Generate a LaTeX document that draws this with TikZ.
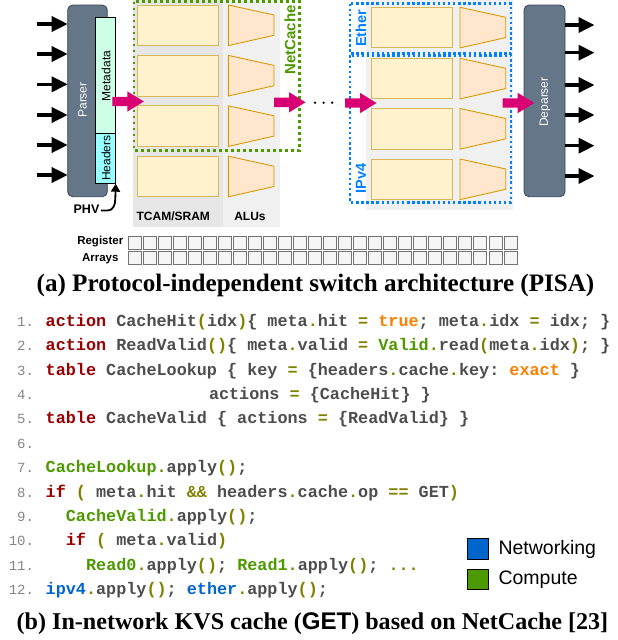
\documentclass[tikz,border=0pt]{standalone}
\usepackage{fontspec}
\setsansfont{Liberation Sans}
\setmonofont{Liberation Mono}
\newfontfamily\capfont{Liberation Serif}
\usetikzlibrary{arrows.meta}
\definecolor{slate}{HTML}{647687}
\definecolor{slatedk}{HTML}{314354}
\definecolor{mint}{HTML}{CCFFE6}
\definecolor{cyanh}{HTML}{99FFFF}
\definecolor{tcamf}{HTML}{FFF2CC}
\definecolor{tcamd}{HTML}{D6B656}
\definecolor{aluf}{HTML}{FFE6CC}
\definecolor{alud}{HTML}{D79B00}
\definecolor{mag}{HTML}{D80073}
\definecolor{ncgreen}{HTML}{4D9900}
\definecolor{netblue}{HTML}{007FFF}
\definecolor{bgdark}{HTML}{E6E6E6}
\definecolor{bglight}{HTML}{F0F0F0}
\definecolor{ckwc}{HTML}{990000}
\definecolor{ctxc}{HTML}{4D4D4D}
\definecolor{cpuc}{HTML}{808000}
\definecolor{clic}{HTML}{FF8000}
\definecolor{cgrc}{HTML}{4D9900}
\definecolor{cblc}{HTML}{0066CC}
\definecolor{clnc}{HTML}{858585}
\definecolor{lgblue}{HTML}{0066CC}
\definecolor{lggreen}{HTML}{4D9900}
\newcommand\cKw[1]{\textcolor{ckwc}{#1}}
\newcommand\cPu[1]{\textcolor{cpuc}{#1}}
\newcommand\cLi[1]{\textcolor{clic}{#1}}
\newcommand\cGr[1]{\textcolor{cgrc}{#1}}
\newcommand\cBl[1]{\textcolor{cblc}{#1}}
\tikzset{
  every node/.style={inner sep=0pt, outer sep=0pt},
  slatebox/.style={draw=slatedk, fill=slate, rounded corners=5pt, line width=0.8pt},
  inarrow/.style={line width=3.5pt, -{Triangle[length=16pt,width=15pt]}},
  tcam/.style={draw=tcamd, fill=tcamf, line width=0.9pt},
  alu/.style={draw=alud, fill=aluf, line width=0.9pt},
  magarrow/.pic={\fill[mag] (0,-4.7) -- (15,-4.7) -- (15,-10.2) -- (31.5,0) -- (15,10.2) -- (15,4.7) -- (0,4.7) -- cycle;},
  lbl/.style={font=\sffamily\fontsize{12}{14}\selectfont},
  blbl/.style={font=\sffamily\bfseries\fontsize{12}{14}\selectfont},
  codeline/.style={anchor=base west, text=ctxc, font=\ttfamily\bfseries\fontsize{16.8}{20}\selectfont},
  lnum/.style={anchor=base east, text=clnc, font=\ttfamily\fontsize{14}{16}\selectfont},
  regsq/.style={draw=black!55, fill=black!4, line width=0.7pt, minimum width=13pt, minimum height=12.3pt},
}
\begin{document}
\begin{tikzpicture}[x=1pt,y=-1pt]
\useasboundingbox (0,0) rectangle (618,640);
% stage backgrounds
\fill[bgdark] (132.7,0) rectangle (223.3,226.7);
\fill[bglight] (223.3,0) rectangle (280,226.7);
\fill[bglight] (365.7,0) rectangle (512.7,210);
% left stage memory and ALUs
\foreach \t [count=\i] in {5,55.4,105.8,156.2}{
  \node[tcam, minimum width=80.6pt, minimum height=40.6pt] (lt\i) at (178,\t+20.3) {};
  \filldraw[alu] (228.3,\t) -- (274,\t+10) -- (274,\t+30.3) -- (228.3,\t+40.6) -- cycle;
}
% right stage memory and ALUs
\foreach \t [count=\i] in {7.3,58.3,108.5,159}{
  \node[tcam, minimum width=81pt, minimum height=40.6pt] (rt\i) at (412.2,\t+20.3) {};
  \filldraw[alu] (460,\t) -- (505.7,\t+10) -- (505.7,\t+30.3) -- (460,\t+40.6) -- cycle;
}
% program regions
\draw[ncgreen, line width=2.8pt, dash pattern=on 2.8pt off 3.2pt] (134,1.5) rectangle (299.5,150.5);
\node[rotate=90, text=ncgreen, font=\sffamily\bfseries\fontsize{15}{17}\selectfont] (nc) at (290,40) {NetCache};
\draw[netblue, line width=2.6pt, dash pattern=on 2.5pt off 2.6pt] (350,3.5) rectangle (511,53.3);
\draw[netblue, line width=2.6pt, dash pattern=on 2.5pt off 2.6pt] (350,55.3) rectangle (511,202.3);
\node[rotate=90, text=netblue, font=\sffamily\bfseries\fontsize{14.5}{17}\selectfont] (eth) at (361,28.3) {Ether};
\node[rotate=90, text=netblue, font=\sffamily\bfseries\fontsize{14.5}{17}\selectfont] (ip4) at (361,178.3) {IPv4};
% parser
\node[slatebox, minimum width=39.6pt, minimum height=191.7pt] (parser) at (87.5,100.85) {};
\node[rotate=90, text=white, lbl] (parsertxt) at (82.5,100) {Parser};
\node[draw=black, fill=mint, line width=0.8pt, minimum width=20.7pt, minimum height=115.6pt] (md) at (105.35,75.5) {};
\node[draw=black, fill=cyanh, line width=0.8pt, minimum width=20.7pt, minimum height=50.4pt] (hd) at (105.35,158.5) {};
\node[rotate=90, lbl] (mdtxt) at (106,76) {Metadata};
\node[rotate=90, lbl] (hdtxt) at (106,158.3) {Headers};
\foreach \y [count=\i] in {24,54,84.3,115,145,175}{
  \coordinate (in\i) at (36.7,\y);
  \draw[inarrow] (in\i) -- (parser.west |- in\i);
}
\node[blbl, font=\sffamily\bfseries\fontsize{12.5}{14}\selectfont] (phv) at (86.5,209.5) {PHV};
\draw[line width=1.8pt, -{Triangle[length=8pt,width=9pt]}] (phv.east) ++(1.5,1) -- ++(7,0) to[out=0,in=-90] (115.3,199) -- (hd.south east);
% deparser
\node[slatebox, minimum width=41pt, minimum height=191.7pt] (deparser) at (544.5,100.85) {};
\node[rotate=90, text=white, lbl] (deptxt) at (545,102) {Deparser};
\foreach \y [count=\i] in {25,52.7,85,115,145.7,176}{
  \coordinate (out\i) at (594.5,\y);
  \draw[inarrow] (deparser.east |- out\i) -- (out\i);
}
% column labels
\node[blbl] (tcamlbl) at (173.3,216.5) {TCAM/SRAM};
\node[blbl] (alulbl) at (250,216.5) {ALUs};
% flow arrows
\pic (m1) at (112.3,101.5) {magarrow};
\pic (m2) at (274,102.3) {magarrow};
\pic (m3) at (345,103) {magarrow};
\pic (m4) at (502.7,103) {magarrow};
\foreach \x [count=\i] in {315,323.6,332.2}{
  \fill[black] (\x,102.7) circle (1.3) coordinate (dot\i);
}
% register arrays
\node[anchor=east, blbl, font=\sffamily\bfseries\fontsize{11.5}{13}\selectfont] (reglbl) at (123.3,242) {Register};
\node[anchor=east, blbl, font=\sffamily\bfseries\fontsize{11.5}{13}\selectfont] (arrlbl) at (118.5,259) {Arrays};
\foreach \i in {0,...,25}{
  \node[regsq] (ra\i) at (134.4+\i*15.04,242.8) {};
  \node[regsq] (rb\i) at (134.4+\i*15.04,257.8) {};
}
% caption a
\node[anchor=base] (capa) at (315.5,291) {\resizebox{557.6pt}{!}{\capfont\bfseries\fontsize{20}{24}\selectfont (a) Protocol-independent switch architecture (PISA)}};
% code
\foreach \n in {1,...,12}{
  \node[lnum] (ln\n) at (34,326.2+\n*24.4-24.4) {\n.};
}
\node[codeline] (c1) at (45.7,326.2) {\cKw{action} CacheHit\cPu{(}idx\cPu{)}\{ meta\cPu{.}hit \cPu{=} \cLi{true}; meta\cPu{.}idx \cPu{=} idx; \}};
\node[codeline] (c2) at (45.7,350.6) {\cKw{action} ReadValid\cPu{()}\{ meta\cPu{.}valid \cPu{=} \cGr{Valid}\cPu{.}read\cPu{(}meta\cPu{.}idx\cPu{)}; \}};
\node[codeline] (c3) at (45.7,375.0) {\cKw{table} CacheLookup \{ key \cPu{=} \{headers\cPu{.}cache\cPu{.}key: \cLi{exact} \}};
\node[codeline] (c4) at (209,399.4) {actions \cPu{=} \{CacheHit\} \}};
\node[codeline] (c5) at (45.7,423.8) {\cKw{table} CacheValid \{ actions \cPu{=} \{ReadValid\} \}};
\node[codeline] (c7) at (45.7,472.6) {\cGr{CacheLookup}\cPu{.}apply\cPu{()};};
\node[codeline] (c8) at (45.7,497.0) {\cKw{if} \cPu{(} meta\cPu{.}hit \cPu{\&\&} headers\cPu{.}cache\cPu{.}op \cPu{==} GET\cPu{)}};
\node[codeline] (c9) at (65.9,521.4) {\cGr{CacheValid}\cPu{.}apply\cPu{()};};
\node[codeline] (c10) at (65.9,545.8) {\cKw{if} \cPu{(} meta\cPu{.}valid\cPu{)}};
\node[codeline] (c11) at (86.1,570.2) {\cGr{Read0}\cPu{.}apply\cPu{()}; \cGr{Read1}\cPu{.}apply\cPu{()}; \cPu{...}};
\node[codeline] (c12) at (45.7,594.6) {\cBl{ipv4}\cPu{.}apply\cPu{()}; \cBl{ether}\cPu{.}apply\cPu{()};};
% legend
\node[draw=black, fill=lgblue, line width=0.9pt, minimum width=21pt, minimum height=20.7pt] (lgb) at (478.2,548.7) {};
\node[draw=black, fill=lggreen, line width=0.9pt, minimum width=21pt, minimum height=20.3pt] (lgg) at (478.2,579.2) {};
\node[anchor=west, font=\sffamily\fontsize{19.5}{22}\selectfont] (lgbt) at (498.5,549) {Networking};
\node[anchor=west, font=\sffamily\fontsize{19.5}{22}\selectfont] (lggt) at (498.5,579.5) {Compute};
% caption b
\node[anchor=base] (capb) at (312.5,629) {\resizebox{591.6pt}{!}{\capfont\bfseries\fontsize{20}{24}\selectfont (b) In-network KVS cache ({\sffamily GET}) based on NetCache [23]}};
\end{tikzpicture}
\end{document}
